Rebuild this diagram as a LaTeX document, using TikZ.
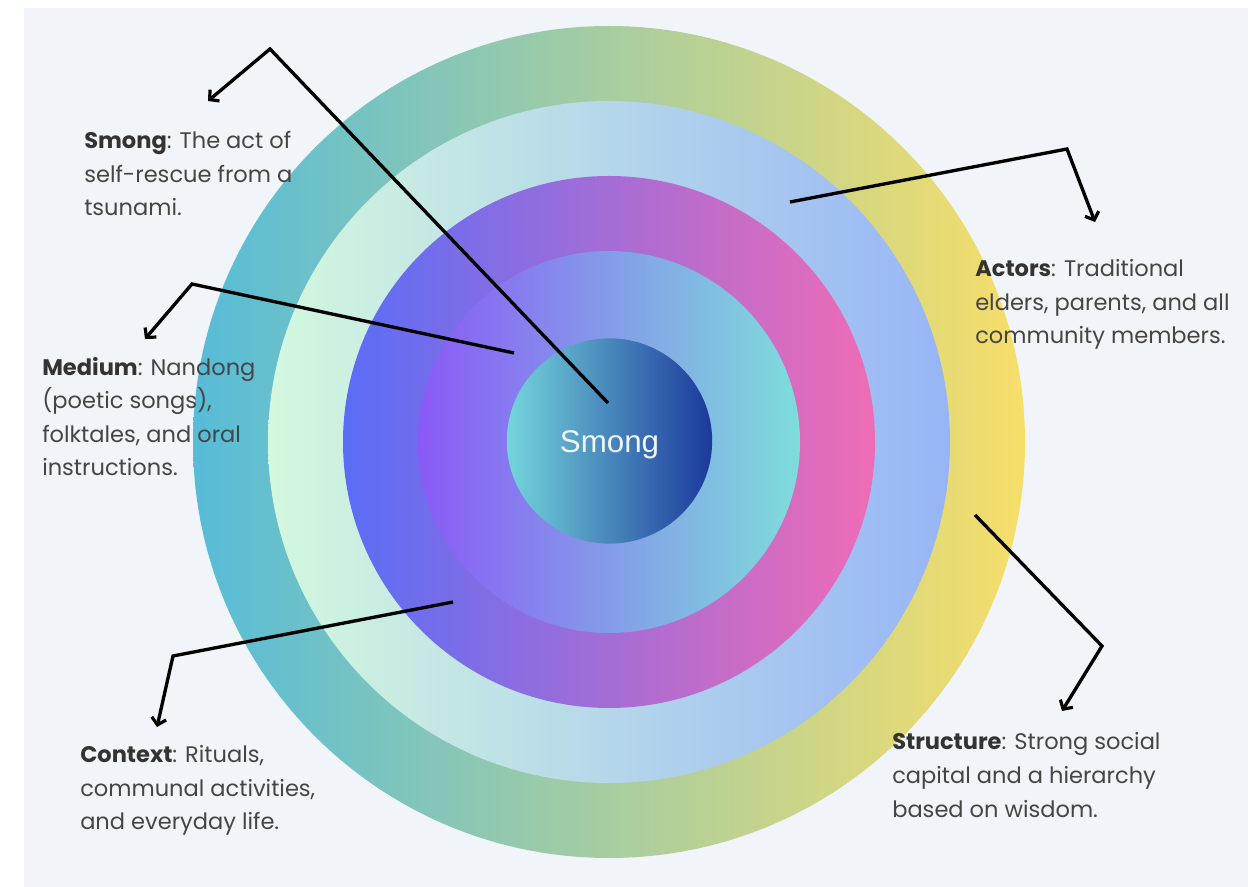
\documentclass[tikz,border=0pt]{standalone}
\usepackage{fontspec}
\setmainfont{Poppins}
\newfontfamily\corefont{Liberation Sans}
\usetikzlibrary{arrows.meta}

\definecolor{panelbg}{HTML}{F1F5F9}
\definecolor{labeltext}{HTML}{454545}
\definecolor{labelbold}{HTML}{333333}
% ring colours, left / middle / right
\definecolor{outerL}{HTML}{56BCD8}
\definecolor{outerM}{HTML}{8ECF9F}
\definecolor{outerR}{HTML}{F7DE69}
\definecolor{secondL}{HTML}{D3F8DE}
\definecolor{secondR}{HTML}{97B5F6}
\definecolor{thirdL}{HTML}{5A6DF6}
\definecolor{thirdM}{HTML}{A56CDA}
\definecolor{thirdR}{HTML}{EF6CB5}
\definecolor{fourthL}{HTML}{8A5AF6}
\definecolor{fourthR}{HTML}{7EDDDB}
\definecolor{coreL}{HTML}{74D5DB}
\definecolor{coreR}{HTML}{1C399C}
\definecolor{coretext}{HTML}{EEF6F8}

\tikzset{
  ring/.style={circle, inner sep=0pt, outer sep=0pt, draw=none},
  callout/.style={draw=black, line width=2.5pt, line join=miter,
    -{Straight Barb[length=5pt,width=11pt,line width=2.4pt]}},
  % the base anchor of these multi-line nodes sits on the last line
  label/.style={anchor=base west, inner sep=0pt, align=left,
    text=labeltext, font=\fontsize{16.9}{25.2}\selectfont},
}
\newcommand{\lead}[1]{\textcolor{labelbold}{\textbf{#1}}}

\begin{document}
\begin{tikzpicture}[x=0.75pt,y=-0.75pt]
\useasboundingbox (0,0) rectangle (1258,887);
\fill[panelbg] (24,8) rectangle (1248,887);

% concentric rings, largest first
\node[ring, minimum size=624pt, left color=outerL, middle color=outerM, right color=outerR] (outer) at (609,442) {};
\node[ring, minimum size=511.5pt, left color=secondL, right color=secondR] (second) at (609,442) {};
\node[ring, minimum size=399pt, left color=thirdL, middle color=thirdM, right color=thirdR] (third) at (609,442) {};
\node[ring, minimum size=286.5pt, left color=fourthL, right color=fourthR] (fourth) at (609,442) {};
\node[ring, minimum size=154pt, left color=coreL, right color=coreR] (core) at (609.5,441) {};
\node[text=coretext, font=\corefont\fontsize{23.5}{28}\selectfont] (coretitle) at (609.5,445) {Smong};

% callout end points and bends
\coordinate (sS) at (608,403);
\coordinate (sB) at (270,49);
\coordinate (sT) at (208,101);
\coordinate (mS) at (514,353);
\coordinate (mB) at (192,284);
\coordinate (mT) at (145,339);
\coordinate (aS) at (790,202);
\coordinate (aB) at (1067,149);
\coordinate (aT) at (1095,222);
\coordinate (tS) at (975,515);
\coordinate (tB) at (1102,646);
\coordinate (tT) at (1062,711);
\coordinate (cS) at (453,602);
\coordinate (cB) at (173,656);
\coordinate (cT) at (157,727);

\draw[callout] (sS) -- (sB) -- (sT);
\draw[callout] (mS) -- (mB) -- (mT);
\draw[callout] (aS) -- (aB) -- (aT);
\draw[callout] (tS) -- (tB) -- (tT);
\draw[callout] (cS) -- (cB) -- (cT);

% descriptions
\node[label] (smongtext) at (84,216) {\lead{Smong}: The act of\\self-rescue from a\\tsunami.};
\node[label] (mediumtext) at (42,476) {\lead{Medium}: Nandong\\(poetic songs),\\folktales, and oral\\instructions.};
\node[label] (actorstext) at (975,344) {\lead{Actors}: Traditional\\elders, parents, and all\\community members.};
\node[label] (structuretext) at (892,817) {\lead{Structure}: Strong social\\capital and a hierarchy\\based on wisdom.};
\node[label] (contexttext) at (80,830) {\lead{Context}: Rituals,\\communal activities,\\and everyday life.};
\end{tikzpicture}
\end{document}
